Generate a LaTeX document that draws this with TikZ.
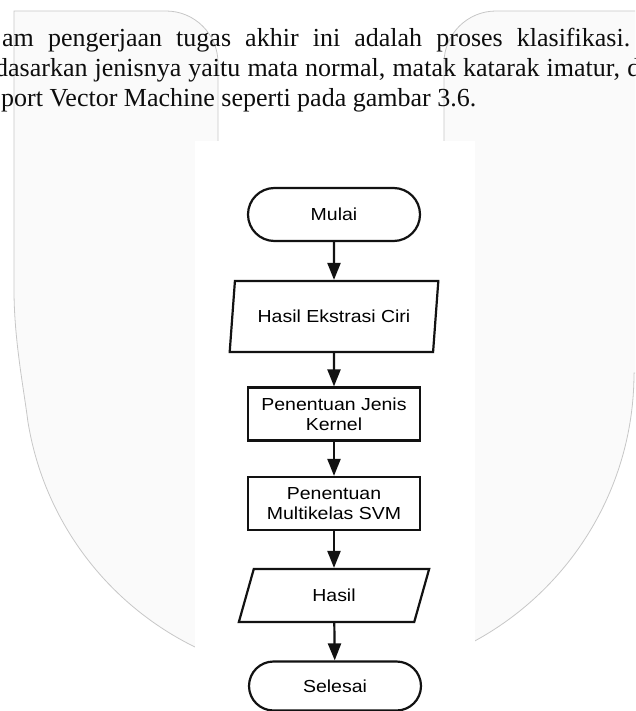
\documentclass[tikz,border=0pt]{standalone}
\usepackage{fontspec}
\setmainfont{Liberation Serif}
\newfontfamily\flowfont[FakeStretch=1.12]{Liberation Sans}
\usetikzlibrary{arrows.meta, shapes.geometric, shapes.misc}

\begin{document}
\begin{tikzpicture}[x=1pt, y=-1pt,
  bodytext/.style={inner sep=0pt, anchor=base west, font=\fontsize{26}{30}\selectfont, text=black!95},
  flowbox/.style={draw=black!93, line width=2.2pt, inner sep=0pt, align=center, font=\flowfont\fontsize{17.4}{20}\selectfont},
  terminal/.style={flowbox, rounded rectangle, minimum width=172pt, minimum height=53pt},
  process/.style={flowbox, rectangle, minimum width=172pt, minimum height=53pt},
  io/.style={flowbox, trapezium, trapezium left angle=72.5, trapezium right angle=107.5, trapezium stretches=true},
  flow/.style={draw=black!93, line width=2.2pt, -{Triangle[length=17pt 0 0, width=13pt 0 0]}}]
  \useasboundingbox (0,0) rectangle (635,711);
  \clip (0,0) rectangle (635,711);

  % Watermark behind the page
  \filldraw[fill=black!2, draw=black!22, line width=0.8pt]
    (14,11) -- (166,11) arc (-90:0:52) -- (218,142) -- (444,142) -- (444,63) arc (180:270:52)
    -- (660,11) -- (660,373) -- (634,373) arc (0:171:305)
    .. controls (24,390) and (14,340) .. (14,290) -- cycle;

  % White background of the figure
  \fill[white] (195,141) rectangle (475,711);

  % Body text above the figure
  \node[bodytext] (line1) at (2,46.7) {\makebox[628pt][s]{am pengerjaan tugas akhir ini adalah proses klasifikasi.}};
  \node[bodytext] (line2) at (-5,76.7) {\makebox[645pt][s]{dasarkan jenisnya yaitu mata normal, matak katarak imatur, d}};
  \node[bodytext] (line3) at (1,107) {port Vector Machine seperti pada gambar 3.6.};

  % Flowchart steps
  \node[terminal] (mulai) at (334,214.5) {Mulai};
  \node[io, minimum width=209pt, minimum height=71pt] (ciri) at (334,316.5) {Hasil Ekstrasi Ciri};
  \node[process] (kernel) at (334,414) {Penentuan Jenis\\Kernel};
  \node[process] (svm) at (334,503.5) {Penentuan\\Multikelas SVM};
  \node[io, minimum width=191pt, minimum height=53pt] (hasil) at (334,595.5) {Hasil};
  \node[terminal, minimum height=49pt] (selesai) at (335,686) {Selesai};

  % Arrows between the steps
  \draw[flow] (mulai) -- (ciri);
  \draw[flow] (ciri) -- (kernel);
  \draw[flow] (kernel) -- (svm);
  \draw[flow] (svm) -- (hasil);
  \draw[flow] (hasil) -- (selesai);
\end{tikzpicture}
\end{document}
